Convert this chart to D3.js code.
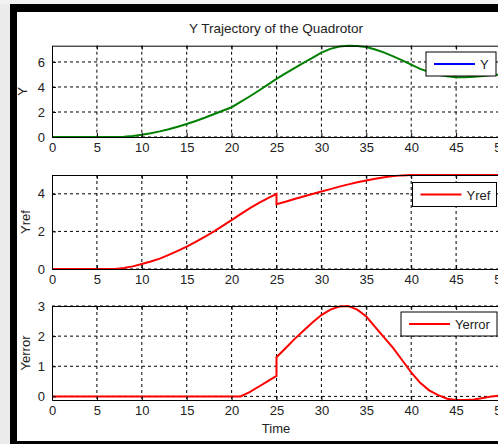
<!DOCTYPE html>
<html>
<head>
<meta charset="utf-8">
<script src="https://cdn.jsdelivr.net/npm/d3@7"></script>
<style>
  body { margin: 0; background: #fff; }
  svg { display: block; font-family: Arial, "Liberation Sans", sans-serif; }
  .grid line { stroke: #000; stroke-dasharray: 3,3; stroke-width: 1; }
  .tick text { fill: #222; font-size: 13px; }
</style>
</head>
<body>
<svg width="498" height="444"></svg>
<script>
// Data
const yTime = [0, 5, 8, 9, 10, 11, 12, 13, 14, 15, 16, 17, 18, 19, 20, 21, 22, 23, 24, 25,
    26, 27, 28, 29, 30, 31, 32, 33, 34, 35, 36, 37, 38, 39, 40, 41, 42, 43, 44, 45, 46, 47, 48, 49, 50];
const yValues = [0, 0, 0.02, 0.08, 0.18, 0.3, 0.45, 0.62, 0.82, 1.04, 1.28, 1.54, 1.82, 2.1, 2.38, 2.8, 3.24, 3.7, 4.17, 4.64,
    5.08, 5.5, 5.92, 6.32, 6.75, 7.05, 7.24, 7.3, 7.28, 7.2, 7.0, 6.75, 6.45, 6.12, 5.78, 5.45, 5.2, 4.98, 4.85, 4.78, 4.78, 4.82, 4.88, 4.95, 5.0];

const yrefTime = [0, 5, 7, 8, 9, 10, 11, 12, 13, 14, 15, 16, 17, 18, 19, 20, 21, 22, 23, 24, 25,
    25, 26, 27, 28, 29, 30, 31, 32, 33, 34, 35, 36, 37, 38, 39, 40, 45, 50];
const yrefValues = [0, 0, 0, 0.05, 0.14, 0.27, 0.4, 0.55, 0.75, 0.96, 1.19, 1.44, 1.71, 1.99, 2.29, 2.6, 2.92, 3.22, 3.5, 3.76, 4.0,
    3.45, 3.58, 3.72, 3.86, 3.99, 4.12, 4.25, 4.38, 4.5, 4.61, 4.71, 4.8, 4.88, 4.94, 4.98, 5.0, 5.0, 5.0];

const errTime = [0, 5, 10, 15, 20, 21, 22, 23, 24, 25,
    25, 26, 27, 28, 29, 30, 31, 32, 33, 34, 35, 36, 37, 38, 39, 40, 41, 42, 43, 44, 45, 46, 47, 48, 49, 50];
const errValues = [0, 0, 0, 0, 0, 0, 0.14, 0.32, 0.5, 0.68,
    1.3, 1.6, 1.9, 2.18, 2.45, 2.7, 2.88, 2.98, 3.0, 2.88, 2.65, 2.3, 1.95, 1.6, 1.2, 0.8, 0.45, 0.2, 0.04, -0.08, -0.12, -0.12, -0.1, -0.05, 0.0, 0.03];

const xTicks = [0, 5, 10, 15, 20, 25, 30, 35, 40, 45, 50];
const yTicks = [0, 2, 4, 6];
const yrefTicks = [0, 2, 4];
const errTicks = [0, 1, 2, 3];

const svg = d3.select("svg");

// window frame
svg.append("rect").attr("x", 0).attr("y", 0).attr("width", 10).attr("height", 444).attr("fill", "#ececec");
svg.append("rect").attr("x", 0).attr("y", 0).attr("width", 498).attr("height", 4).attr("fill", "#f2f2f2");
svg.append("rect").attr("x", 10).attr("y", 4).attr("width", 488).attr("height", 440).attr("fill", "#000");
svg.append("rect").attr("x", 17).attr("y", 12).attr("width", 481).attr("height", 429).attr("fill", "#fff");

const x = d3.scaleLinear().domain([0, 50]).range([52, 501]);

const panels = [
    { time: yTime, values: yValues, ticks: yTicks, domain: [0, d3.max(yValues)], top: 45.7, bottom: 137,
      color: "#008000", legendColor: "#0000ff", label: "Y", labelX: 26.5, legend: [426, 52, 70, 24] },
    { time: yrefTime, values: yrefValues, ticks: yrefTicks, domain: [0, d3.max(yrefValues)], top: 175, bottom: 269,
      color: "#ff0000", legendColor: "#ff0000", label: "Yref", labelX: 30, legend: [412.5, 182.5, 84, 24] },
    { time: errTime, values: errValues, ticks: errTicks, domain: d3.extent(errValues), top: 306, bottom: 400,
      color: "#ff0000", legendColor: "#ff0000", label: "Yerror", labelX: 30, legend: [401, 312, 96, 24] }
];

panels.forEach(p => {
    const y = d3.scaleLinear().domain(p.domain).range([p.bottom, p.top]);
    const g = svg.append("g");

    // grid
    const grid = g.append("g").attr("class", "grid");
    grid.selectAll(".gx").data(xTicks.slice(1)).enter().append("line")
        .attr("x1", d => x(d)).attr("x2", d => x(d))
        .attr("y1", p.top).attr("y2", p.bottom);
    grid.selectAll(".gy").data(p.ticks).enter().append("line")
        .attr("x1", x(0)).attr("x2", x(50))
        .attr("y1", d => y(d)).attr("y2", d => y(d));

    // data line
    const pts = p.time.map((t, k) => [t, p.values[k]]);
    g.append("path")
        .datum(pts)
        .attr("fill", "none")
        .attr("stroke", p.color)
        .attr("stroke-width", 2)
        .attr("d", d3.line().x(d => x(d[0])).y(d => y(d[1])));

    // axes (ticks inside, like MATLAB)
    g.append("g")
        .attr("transform", `translate(0,${p.bottom})`)
        .call(d3.axisBottom(x).tickValues(xTicks).tickFormat(d3.format("d")).tickSize(-4).tickPadding(6))
        .call(a => a.select(".domain").attr("stroke", "#000"));
    g.append("g")
        .attr("transform", `translate(0,${p.top})`)
        .call(d3.axisTop(x).tickValues(xTicks).tickSize(-4).tickFormat(""))
        .call(a => a.select(".domain").attr("stroke", "#000"));
    g.append("g")
        .attr("transform", `translate(${x(0)},0)`)
        .call(d3.axisLeft(y).tickValues(p.ticks).tickFormat(d3.format("d")).tickSize(-4).tickPadding(7).tickSizeOuter(0))
        .call(a => a.select(".domain").attr("stroke", "#000"));

    // y label
    g.append("text")
        .attr("transform", `translate(${p.labelX},${(p.top + p.bottom) / 2}) rotate(-90)`)
        .attr("text-anchor", "middle")
        .attr("font-size", 13)
        .attr("fill", "#222")
        .text(p.label);

    // legend
    const [lx, ly, lw, lh] = p.legend;
    const leg = g.append("g").attr("transform", `translate(${lx},${ly})`);
    leg.append("rect").attr("width", lw).attr("height", lh)
        .attr("fill", "#fff").attr("stroke", "#000").attr("stroke-width", 1);
    leg.append("line").attr("x1", 8).attr("x2", 49).attr("y1", lh / 2).attr("y2", lh / 2)
        .attr("stroke", p.legendColor).attr("stroke-width", 2);
    leg.append("text").attr("x", 54).attr("y", lh / 2 + 5)
        .attr("font-size", 13).attr("fill", "#222").text(p.label);
});

// title and x label
svg.append("text")
    .attr("x", 276).attr("y", 33)
    .attr("text-anchor", "middle")
    .attr("font-size", 13.5)
    .attr("fill", "#222")
    .text("Y Trajectory of the Quadrotor");

svg.append("text")
    .attr("x", 276).attr("y", 433)
    .attr("text-anchor", "middle")
    .attr("font-size", 13)
    .attr("fill", "#222")
    .text("Time");
</script>
</body>
</html>
